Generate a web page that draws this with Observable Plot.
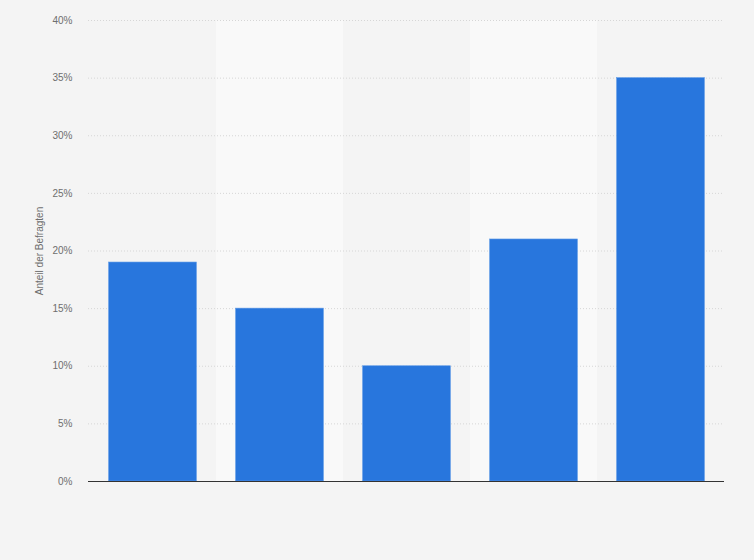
<!DOCTYPE html>
<html>
<head>
<meta charset="utf-8">
<script src="https://cdn.jsdelivr.net/npm/d3@7"></script>
<script src="https://cdn.jsdelivr.net/npm/@observablehq/plot@0.6"></script>
<style>
  html, body { margin: 0; padding: 0; background: #f4f4f4; }
  #chart svg { display: block; }
</style>
</head>
<body>
<div id="chart"></div>
<script>
const categories = ["Kategorie 1", "Kategorie 2", "Kategorie 3", "Kategorie 4", "Kategorie 5"];
const values = [19, 15, 10, 21, 35];
const yTicks = [0, 5, 10, 15, 20, 25, 30, 35, 40];
const shadedBands = ["Kategorie 2", "Kategorie 4"];

const data = categories.map((c, i) => ({category: c, value: values[i]}));
const bands = shadedBands.map(c => ({category: c}));

const chart = Plot.plot({
  width: 754,
  height: 560,
  marginLeft: 88,
  marginRight: 30,
  marginTop: 20,
  marginBottom: 79,
  style: {background: "#f4f4f4", fontFamily: "'Liberation Sans', Arial, sans-serif", fontSize: "10px", color: "#666"},
  x: {domain: categories, padding: 0, axis: null},
  y: {domain: [0, 40]},
  marks: [
    Plot.barY(bands, {x: "category", y1: 0, y2: 40, fill: "#f9f9f9", inset: 0}),
    Plot.gridY(yTicks, {stroke: "#d6d6d6", strokeOpacity: 1, strokeDasharray: "1,2"}),
    Plot.axisY(yTicks, {
      tickSize: 0, tickPadding: 16, tickFormat: d => d + "%",
      fill: "#6e6e6e", fontSize: 10,
      label: "Anteil der Befragten", labelAnchor: "center", labelArrow: "none", labelOffset: 53
    }),
    Plot.barY(data, {x: "category", y: "value", fill: "#2876dd", stroke: "#5f9be6", strokeWidth: 0.6, insetLeft: 19.6, insetRight: 19.6}),
    Plot.ruleY([0], {stroke: "#333", strokeWidth: 1.2})
  ]
});
document.getElementById("chart").appendChild(chart);
</script>
</body>
</html>
